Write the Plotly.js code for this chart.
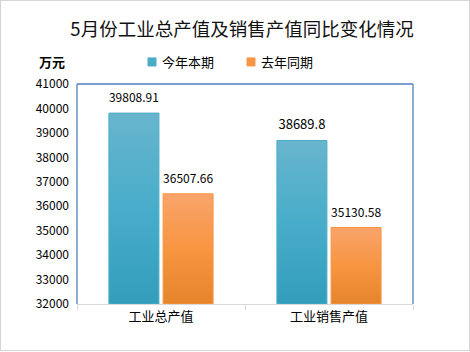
<!DOCTYPE html>
<html><head><meta charset="utf-8">
<script src="https://cdn.plot.ly/plotly-3.0.1.min.js"></script>
<style>
body{margin:0;padding:0;background:#fff;}
#wrap{position:relative;width:470px;height:352px;}
#frame{position:absolute;left:0;top:0;width:470px;height:351px;box-sizing:border-box;border:1px solid #d4d4d4;pointer-events:none;}
</style></head>
<body><div id="wrap"><div id="chart" style="width:470px;height:352px;"></div><div id="frame"></div></div>
<script>
const categories = ['工业总产值', '工业销售产值'];
const seriesNames = ['今年本期', '去年同期'];
const thisYear = [39808.91, 38689.8];
const lastYear = [36507.66, 35130.58];
const yTicks = [32000, 33000, 34000, 35000, 36000, 37000, 38000, 39000, 40000, 41000];
const yRange = [32000, 41000];
const titleText = '5月份工业总产值及销售产值同比变化情况';
const unitText = '万元';

const FONT = '"Noto Sans CJK SC", "Liberation Sans", sans-serif';
const W = 470, H = 352, L = 77, R = 57, T = 84, B = 48;

const traces = [
  {type:'bar', name:seriesNames[0], x:categories, y:thisYear.map(v => v - yRange[0]), base:yRange[0],
   text:thisYear.map(String), textposition:'outside', cliponaxis:false,
   textfont:{size:13,color:'#000',family:FONT},
   marker:{color:'#4BACC6', line:{color:'#4BACC6', width:1}}},
  {type:'bar', name:seriesNames[1], x:categories, y:lastYear.map(v => v - yRange[0]), base:yRange[0],
   text:lastYear.map(String), textposition:'outside', cliponaxis:false,
   textfont:{size:13,color:'#000',family:FONT},
   marker:{color:'#F79646', line:{color:'#F79646', width:1}}}
];

const blue = '#4F81BD';
const layout = {
  width:W, height:H,
  margin:{l:L, r:R, t:T, b:B, pad:0},
  paper_bgcolor:'#fff', plot_bgcolor:'#fff',
  font:{family:FONT, color:'#000'},
  title:{text:titleText, font:{size:18.5, family:FONT, color:'#111'},
         x:242/W, xanchor:'center', xref:'container', y:1-30/H, yanchor:'middle', yref:'container'},
  barmode:'group', bargap:0.355, bargroupgap:0.077,
  showlegend:true,
  legend:{orientation:'h', x:132/W, xref:'container', y:1-62/H, yref:'container', yanchor:'middle', xanchor:'left',
          font:{size:13, family:FONT, color:'#000'}, itemwidth:30, entrywidth:54, traceorder:'normal'},
  xaxis:{type:'category', showgrid:false, showline:true, linecolor:'#D9D9D9', linewidth:1,
         ticks:'outside', tickson:'boundaries', ticklen:5, tickcolor:'#D9D9D9',
         tickfont:{size:13, family:FONT, color:'#000'}, zeroline:false, fixedrange:true},
  yaxis:{range:yRange, tickmode:'array', tickvals:yTicks, ticktext:yTicks.map(String),
         showgrid:false, zeroline:false, showline:false, ticks:'', ticklabelstandoff:7,
         tickfont:{size:12, family:FONT, color:'#000'}, fixedrange:true},
  shapes:[
    {type:'line', xref:'paper', yref:'paper', x0:0, x1:0, y0:0, y1:1, line:{color:blue, width:1.3}},
    {type:'line', xref:'paper', yref:'paper', x0:0, x1:1, y0:1, y1:1, line:{color:blue, width:1.3}},
    {type:'line', xref:'paper', yref:'paper', x0:1, x1:1, y0:0, y1:1, line:{color:blue, width:1.3}}
  ],
  annotations:[
    {text:unitText, xref:'paper', yref:'paper', x:(52-L)/(W-L-R), y:1+(T-62)/(H-T-B), xanchor:'center', yanchor:'middle',
     showarrow:false, font:{size:13, family:FONT, color:'#000', weight:'bold'}}
  ]
};

function decorate(gd){
  const svg = gd.querySelector('svg.main-svg');
  const NS = 'http://www.w3.org/2000/svg';
  let defs = svg.querySelector('defs');
  if(!defs){defs = document.createElementNS(NS,'defs'); svg.insertBefore(defs, svg.firstChild);}
  function grad(id, stops){
    if(svg.querySelector('#'+id)) return;
    const g = document.createElementNS(NS,'linearGradient');
    g.setAttribute('id', id); g.setAttribute('x1','0'); g.setAttribute('y1','0'); g.setAttribute('x2','0'); g.setAttribute('y2','1');
    stops.forEach(function(s){const st=document.createElementNS(NS,'stop'); st.setAttribute('offset',s[0]); st.setAttribute('stop-color',s[1]); g.appendChild(st);});
    defs.appendChild(g);
  }
  grad('gBlue', [['0','#68B5CD'],['0.5','#48ADCA'],['1','#339DBC']]);
  grad('gOrange', [['0','#F9A46C'],['0.5','#F79541'],['1','#E5852C']]);
  gd.querySelectorAll('.barlayer .trace').forEach(function(tg, i){
    const id = i===0 ? 'gBlue' : 'gOrange';
    tg.querySelectorAll('.point path').forEach(function(p){
      p.style.setProperty('fill', 'url(#' + id + ')', 'important');
      p.setAttribute('fill', 'url(#' + id + ')');
    });
    tg.querySelectorAll('.point text').forEach(function(t){
      if(t.dataset.shifted) return;
      t.dataset.shifted = '1';
      const tr = t.getAttribute('transform') || '';
      t.setAttribute('transform', 'translate(0,-4) ' + tr);
    });
  });
  gd.querySelectorAll('.legend .traces').forEach(function(tr){
    tr.querySelectorAll('.legendpoints path').forEach(function(p){
      p.setAttribute('d', 'M4,4H-4V-4H4Z');
    });
    const txt = tr.querySelector('text.legendtext');
    if(txt && !txt.dataset.shifted){
      txt.dataset.shifted = '1';
      const t0 = txt.getAttribute('transform') || '';
      txt.setAttribute('transform', 'translate(-10,0) ' + t0);
    }
  });
}

Plotly.newPlot('chart', traces, layout, {displayModeBar:false, staticPlot:true}).then(function(gd){
  decorate(gd);
  gd.on('plotly_afterplot', function(){ decorate(gd); });
  setTimeout(function(){ decorate(gd); }, 50);
});
</script></body></html>
